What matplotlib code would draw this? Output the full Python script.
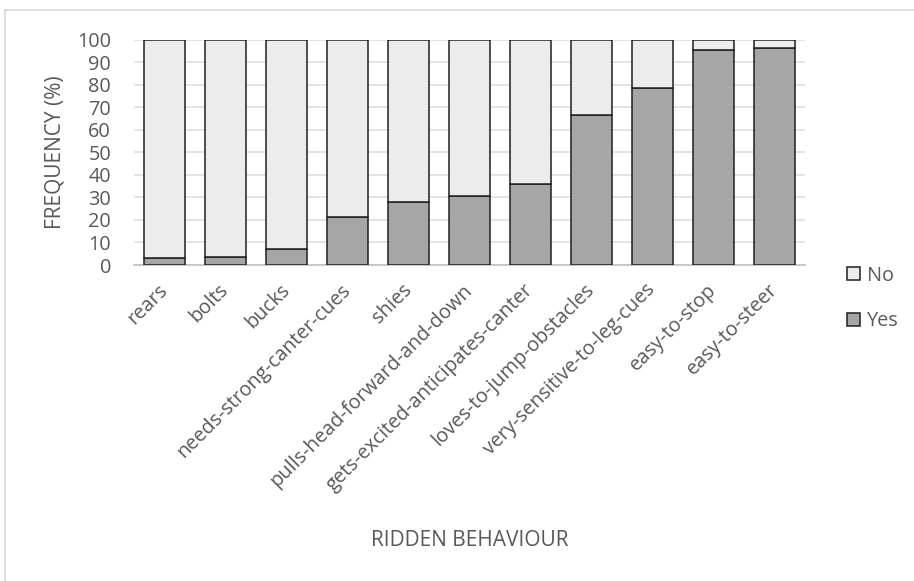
import matplotlib
matplotlib.use('Agg')
import matplotlib.pyplot as plt
from matplotlib.lines import Line2D
import numpy as np

# Ridden behaviour frequencies (%)
behaviours = ['rears', 'bolts', 'bucks', 'needs-strong-canter-cues', 'shies',
              'pulls-head-forward-and-down', 'gets-excited-anticipates-canter',
              'loves-to-jump-obstacles', 'very-sensitive-to-leg-cues',
              'easy-to-stop', 'easy-to-steer']
yes_pct = [3.1, 3.4, 7.1, 21.2, 28.1, 30.6, 35.8, 66.7, 78.6, 95.6, 96.2]
no_pct = [100. - v for v in yes_pct]
yticks = list(range(0, 101, 10))

TEXT = '#595959'
plt.rcParams['font.family'] = ['Open Sans', 'DejaVu Sans']

fig = plt.figure(figsize=(9.14, 5.81), dpi=100)
ax = fig.add_axes([134/914., 1 - 265/581., (805 - 134)/914., (265 - 39.7)/581.])

x = np.arange(len(behaviours))
w = 0.67
b_yes = ax.bar(x, yes_pct, w, color='#a6a6a6', edgecolor='#1f1f1f',
               linewidth=1.1, zorder=3, label='Yes')
b_no = ax.bar(x, no_pct, w, bottom=yes_pct, color='#ececec',
              edgecolor='#1f1f1f', linewidth=1.1, zorder=3, label='No')

ax.set_xlim(-0.5, len(behaviours) - 0.5)
ax.set_ylim(0, 100)
ax.set_yticks(yticks)
ax.set_yticklabels([str(t) for t in yticks])
ax.yaxis.grid(True, color='#dedede', linewidth=1.2, zorder=0)
ax.set_axisbelow(True)
for s in ['top', 'right', 'left']:
    ax.spines[s].set_visible(False)
ax.spines['bottom'].set_color('#bfbfbf')
ax.spines['bottom'].set_linewidth(1.2)
ax.tick_params(axis='both', length=0, colors=TEXT)
ax.tick_params(axis='y', pad=16.5, labelsize=14.3)
ax.set_xticks(x)
ax.set_xticklabels(behaviours, rotation=45, ha='right', va='center',
                   rotation_mode='anchor')
ax.tick_params(axis='x', pad=16, labelsize=14.3)

ax.set_ylabel('FREQUENCY (%)', fontsize=15, color=TEXT, labelpad=8)
fig.text(470/914., 1 - 540/581., 'RIDDEN BEHAVIOUR', fontsize=15,
         color=TEXT, ha='center', va='center')

leg = fig.legend([b_no, b_yes], ['No', 'Yes'], loc='center left',
                 bbox_to_anchor=(847/914., 1 - 298.5/581.), frameon=False,
                 fontsize=14.3, labelcolor=TEXT, handlelength=0.65,
                 handleheight=0.65, handletextpad=0.36, labelspacing=1.3,
                 borderpad=0, borderaxespad=0)

# light chart-area border
fig.add_artist(Line2D([5/914., 5/914.], [0, 1 - 10/581.], color='#d9d9d9',
                      linewidth=1.2, transform=fig.transFigure))
fig.add_artist(Line2D([5/914., 1], [1 - 10/581., 1 - 10/581.],
                      color='#d9d9d9', linewidth=1.2,
                      transform=fig.transFigure))

fig.savefig('out.png', dpi=100)
